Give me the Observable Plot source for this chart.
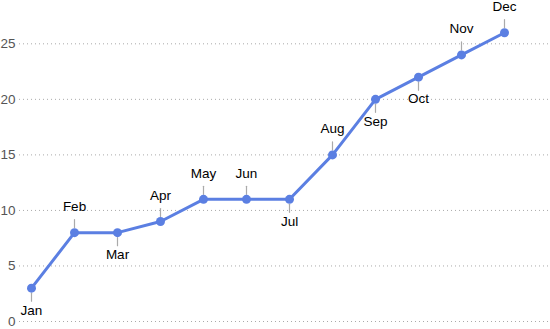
<!DOCTYPE html>
<html>
<head>
<meta charset="utf-8">
<script src="https://cdn.jsdelivr.net/npm/d3@7"></script>
<script src="https://cdn.jsdelivr.net/npm/@observablehq/plot@0.6"></script>
<style>
  html, body { margin: 0; padding: 0; background: #fff; }
</style>
</head>
<body>
<div id="chart"></div>
<script>
const months = ["Jan","Feb","Mar","Apr","May","Jun","Jul","Aug","Sep","Oct","Nov","Dec"];
const values = [3, 8, 8, 9, 11, 11, 11, 15, 20, 22, 24, 26];
const labelSide = ["below","above","below","above","above","above","below","above","below","below","above","above"];
const yTicks = [0, 5, 10, 15, 20, 25];

const data = months.map((m, i) => ({month: m, value: values[i], side: labelSide[i]}));

const tickShape = {
  draw(context, l) {
    context.moveTo(0, -5);
    context.lineTo(0, -l);
  }
};

const chart = Plot.plot({
  width: 550,
  height: 329,
  marginLeft: 19,
  marginRight: 0,
  marginTop: 10,
  marginBottom: 8,
  style: {fontFamily: "'Liberation Sans', Arial, Helvetica, sans-serif", fontSize: "13.5px", background: "#fff"},
  x: {type: "point", domain: months, padding: 0, insetLeft: 10, insetRight: 44, axis: null},
  y: {domain: [0, 28], axis: null},
  marks: [
    Plot.ruleY(yTicks, {stroke: "#aaa", strokeDasharray: "1,3", strokeWidth: 1}),
    Plot.text(yTicks, {y: d => d, frameAnchor: "left", dx: -4, textAnchor: "end", fill: "#555", fontSize: 13.5, text: d => String(d)}),
    Plot.vector(data, {x: "month", y: "value", length: 13, rotate: d => d.side === "above" ? 0 : 180, anchor: "start", shape: tickShape, stroke: "#aaa", strokeWidth: 1.2}),
    Plot.line(data, {x: "month", y: "value", stroke: "#5b7fe2", strokeWidth: 3, strokeLinejoin: "round"}),
    Plot.dot(data, {x: "month", y: "value", r: 4.5, fill: "#5b7fe2", stroke: "none"}),
    Plot.text(data.filter(d => d.side === "above"), {x: "month", y: "value", text: "month", dy: -26, fill: "#000", fontSize: 13.5}),
    Plot.text(data.filter(d => d.side === "below"), {x: "month", y: "value", text: "month", dy: 22, fill: "#000", fontSize: 13.5})
  ]
});
document.getElementById("chart").appendChild(chart);
</script>
</body>
</html>
